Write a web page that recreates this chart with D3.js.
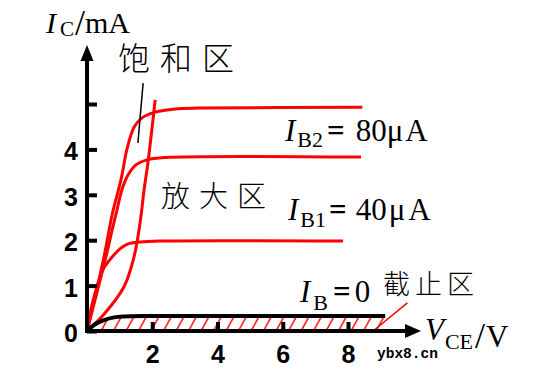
<!DOCTYPE html>
<html>
<head>
<meta charset="utf-8">
<script src="https://cdn.jsdelivr.net/npm/d3@7"></script>
<style>
  body { margin: 0; background: #fff; }
  svg { display: block; }
</style>
</head>
<body>
<div id="chart"></div>
<script>
// ticks
const vTicks = [2, 4, 6, 8];
const iTicks = [0, 1, 2, 3, 4, 5];
const iTickLabels = ['0', '1', '2', '3', '4', ''];

// output curves (V_CE in V, I_C in mA)
const topV = [0, 0.52, 0.77, 1.04, 1.24, 1.45, 1.70, 2.09, 2.70, 3.47, 8.44];
const topI = [0, 1.63, 2.56, 3.33, 4.05, 4.50, 4.70, 4.82, 4.89, 4.91, 4.93];

const ib2V = [0, 0.31, 0.58, 0.77, 0.92, 1.07, 1.26, 1.50, 1.84, 2.39, 8.40];
const ib2I = [0, 0.86, 1.63, 2.22, 2.67, 3.11, 3.44, 3.66, 3.77, 3.82, 3.83];

const ib1V = [0, 0.15, 0.34, 0.52, 0.77, 1.01, 1.26, 1.63, 2.24, 7.85];
const ib1I = [0, 0.57, 1.06, 1.39, 1.63, 1.81, 1.92, 1.96, 1.98, 1.98];

const ib0V = [0, 0.25, 0.52, 0.83, 1.13, 1.93, 9.14];
const ib0I = [0, 0.15, 0.24, 0.30, 0.32, 0.33, 0.33];

// saturation boundary
const edgeV = [0, 0.52, 1.13, 1.44, 1.63, 1.75, 1.87, 2.09];
const edgeI = [0, 0.37, 0.97, 1.63, 2.40, 3.11, 3.72, 5.09];

// pointer lines to region labels
const satPtrV = [1.72, 1.56];
const satPtrI = [5.46, 4.14];
const cutPtrV = [8.77, 9.82];
const cutPtrI = [0, 0.62];

const width = 555, height = 383;
const red = '#f00';

const svg = d3.select('#chart').append('svg')
  .attr('width', width).attr('height', height);

const x = d3.scaleLinear().domain([0, 8]).range([87, 348]);
const y = d3.scaleLinear().domain([0, 5]).range([331, 104]);

const zip = (vs, is) => vs.map((v, k) => [v, is[k]]);
const line = d3.line().x(d => x(d[0])).y(d => y(d[1])).curve(d3.curveCatmullRom.alpha(0.5));
const straight = d3.line().x(d => x(d[0])).y(d => y(d[1]));

// hatch pattern for cut-off region
const hatchH = y(0) - y(ib0I[ib0I.length - 1]);
const pat = svg.append('defs').append('pattern')
  .attr('id', 'hatch')
  .attr('patternUnits', 'userSpaceOnUse')
  .attr('x', 0).attr('y', y(ib0I[ib0I.length - 1]))
  .attr('width', 12.5).attr('height', hatchH);
pat.append('line')
  .attr('x1', 1).attr('y1', hatchH)
  .attr('x2', 1 + hatchH * 0.55).attr('y2', 0)
  .attr('stroke', red).attr('stroke-width', 1.5);

svg.append('path')
  .datum(zip(ib0V, ib0I))
  .attr('d', d3.area().x(d => x(d[0])).y0(y(0)).y1(d => y(d[1])).curve(d3.curveMonotoneX))
  .attr('fill', 'url(#hatch)');

// red curves
[[topV, topI], [ib2V, ib2I], [ib1V, ib1I], [edgeV, edgeI]].forEach(([vs, is]) => {
  svg.append('path')
    .datum(zip(vs, is))
    .attr('d', line)
    .attr('fill', 'none')
    .attr('stroke', red)
    .attr('stroke-width', 3);
});

// I_B = 0 curve
svg.append('path')
  .datum(zip(ib0V, ib0I))
  .attr('d', line)
  .attr('fill', 'none')
  .attr('stroke', '#000')
  .attr('stroke-width', 4);

// pointers
svg.append('path')
  .datum(zip(satPtrV, satPtrI))
  .attr('d', straight)
  .attr('stroke', '#000').attr('stroke-width', 1.5);
svg.append('path')
  .datum(zip(cutPtrV, cutPtrI))
  .attr('d', straight)
  .attr('stroke', red).attr('stroke-width', 1.5);

// axes
const yAxis = svg.append('g')
  .attr('transform', `translate(${x(0)},0)`)
  .call(d3.axisLeft(y).tickValues(iTicks).tickSize(-10).tickPadding(9)
    .tickFormat((d, k) => iTickLabels[k]));
const xAxis = svg.append('g')
  .attr('transform', `translate(0,${y(0)})`)
  .call(d3.axisBottom(x).tickValues(vTicks).tickSize(-9).tickPadding(14));

[yAxis, xAxis].forEach(g => {
  g.select('.domain').remove();
  g.selectAll('.tick line').attr('stroke', '#000').attr('stroke-width', 4);
  g.selectAll('.tick text')
    .attr('fill', '#000')
    .style('font-family', '"Liberation Sans", Arial, sans-serif')
    .style('font-weight', 'bold')
    .style('font-size', '25px');
});
yAxis.selectAll('.tick text').attr('dy', '0.42em');

const x0 = x(0), y0 = y(0);
svg.append('line').attr('x1', x0).attr('y1', y0 + 2).attr('x2', x0).attr('y2', 58)
  .attr('stroke', '#000').attr('stroke-width', 4);
svg.append('path').attr('d', `M${x0},45L${x0 - 6.5},61L${x0 + 6.5},61Z`).attr('fill', '#000');
svg.append('line').attr('x1', x0 - 2).attr('y1', y0).attr('x2', 408).attr('y2', y0)
  .attr('stroke', '#000').attr('stroke-width', 4);
svg.append('path').attr('d', `M421,${y0}L405,${y0 - 7}L405,${y0 + 7}Z`).attr('fill', '#000');

// labels
const serif = '"Liberation Serif", "Times New Roman", serif';
const cjk = '"Noto Sans CJK SC", sans-serif';

function subLabel(px, py, main, sub, rest, opts) {
  const t = svg.append('text').attr('x', px).attr('y', py)
    .style('font-family', serif).style('font-size', opts.size + 'px').attr('fill', '#000');
  t.append('tspan').text(main).style('font-style', 'italic');
  t.append('tspan').text(sub).attr('dx', opts.subDx || 1).attr('dy', opts.subDy)
    .style('font-size', opts.subSize + 'px');
  rest.forEach(r => {
    const s = t.append('tspan').text(r.text).attr('dx', r.dx || 0).attr('dy', r.dy || 0);
    if (r.bold) s.style('font-weight', 'bold');
    if (r.size) s.style('font-size', r.size + 'px');
  });
}

subLabel(46, 33, 'I', 'C', [
  { text: '/', dy: -1, dx: 1, size: 36 },
  { text: 'mA', dy: -2 }
], { size: 30, subSize: 21, subDy: 3, subDx: 4 });
subLabel(425, 340, 'V', 'CE', [
  { text: '/', dy: -1, dx: 2, size: 36 },
  { text: 'V', dy: -1, dx: 1 }
], { size: 31, subSize: 22, subDy: 9 });

subLabel(285, 141, 'I', 'B2', [
  { text: '=', dy: -6, dx: 4, bold: true },
  { text: '80μ', dx: 11 },
  { text: 'A', dx: 2 }
], { size: 31, subSize: 22, subDy: 6, subDx: 2 });

subLabel(288, 220, 'I', 'B1', [
  { text: '=', dy: -7, dx: 3, bold: true },
  { text: '40', dx: 9 },
  { text: 'μ', dx: 2 },
  { text: 'A', dx: 3 }
], { size: 31, subSize: 22, subDy: 7, subDx: 2 });

subLabel(300, 302, 'I', 'B', [
  { text: '=', dy: -8, dx: 5, bold: true },
  { text: '0', dx: 4 }
], { size: 31, subSize: 22, subDy: 8, subDx: 3 });

[['饱和区', 118, 70, 32, 10], ['放大区', 161, 207, 29, 9], ['截止区', 383, 294, 27, 5]]
  .forEach(([txt, px, py, sz, ls]) => {
    svg.append('text').attr('x', px).attr('y', py).text(txt)
      .style('font-family', cjk).style('font-weight', 300)
      .style('font-size', sz + 'px').style('letter-spacing', ls + 'px')
      .attr('fill', '#000');
  });

svg.append('text').attr('x', 377).attr('y', 358).text('ybx8.cn')
  .style('font-family', '"Liberation Mono", monospace').style('font-size', '14.5px')
  .style('font-weight', 'bold')
  .attr('fill', '#000');
</script>
</body>
</html>
